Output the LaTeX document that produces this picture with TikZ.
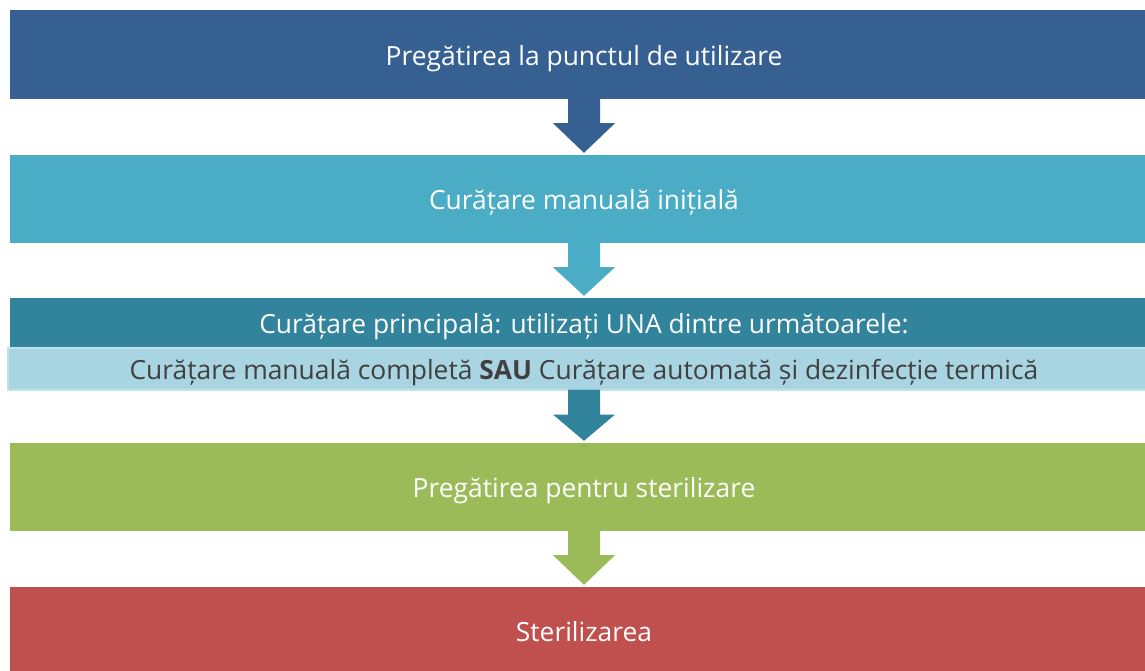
\documentclass[tikz,border=0pt]{standalone}
\usepackage{fontspec}
\setmainfont{Open Sans}
\usetikzlibrary{calc}
\definecolor{cone}{HTML}{376092}
\definecolor{ctwo}{HTML}{4BACC6}
\definecolor{cthree}{HTML}{31849B}
\definecolor{clight}{HTML}{A9D4E1}
\definecolor{clightb}{HTML}{C0E2EA}
\definecolor{cfour}{HTML}{9BBB59}
\definecolor{cfive}{HTML}{C0504D}
\definecolor{ctext}{HTML}{404040}
\tikzset{
  basetext/.style={rectangle, inner sep=0pt, text height=27pt, text depth=6pt,
    font=\fontsize{26.4}{31}\selectfont},
  stagebox/.style={basetext, minimum width=1148pt, minimum height=88pt, text=white},
  subbox/.style={basetext, minimum width=1148pt, minimum height=49pt, text=white},
  lightbox/.style={basetext, minimum width=1152pt, minimum height=42pt,
    fill=clight, draw=clightb, line width=2pt, text=ctext},
}
\newcommand{\blockarrow}[3]{%
  \fill[#1] ($(#2)+(-16,-1)$) -- ($(#2)+(-16,24)$) -- ($(#2)+(-31,24)$) --
    ($(#3)+(0,-2)$) -- ($(#2)+(31,24)$) -- ($(#2)+(16,24)$) -- ($(#2)+(16,-1)$) -- cycle;}
\begin{document}
\begin{tikzpicture}[x=1pt,y=-1pt]
\clip (0,0) rectangle (1145,670);
\fill[white] (0,0) rectangle (1145,670);
\node[stagebox, fill=cone, minimum height=89pt] (b1) at (584,54.5) {Pregătirea la punctul de utilizare};
\node[stagebox, fill=ctwo] (b2) at (584,199) {Curățare manuală inițială};
\node[subbox, fill=cthree] (b3) at (584,322.5) {Curățare principală: utilizați UNA dintre următoarele:};
\node[lightbox] (b3b) at (584,368.5) {Curățare manuală completă \textbf{SAU} Curățare automată și dezinfecție termică};
\node[stagebox, fill=cfour] (b4) at (584,487) {Pregătirea pentru sterilizare};
\node[stagebox, fill=cfive] (b5) at (584,631) {Sterilizarea};
\blockarrow{cone}{b1.south}{b2.north}
\blockarrow{ctwo}{b2.south}{b3.north}
\blockarrow{cthree}{b3b.south}{b4.north}
\blockarrow{cfour}{b4.south}{b5.north}
\end{tikzpicture}
\end{document}
